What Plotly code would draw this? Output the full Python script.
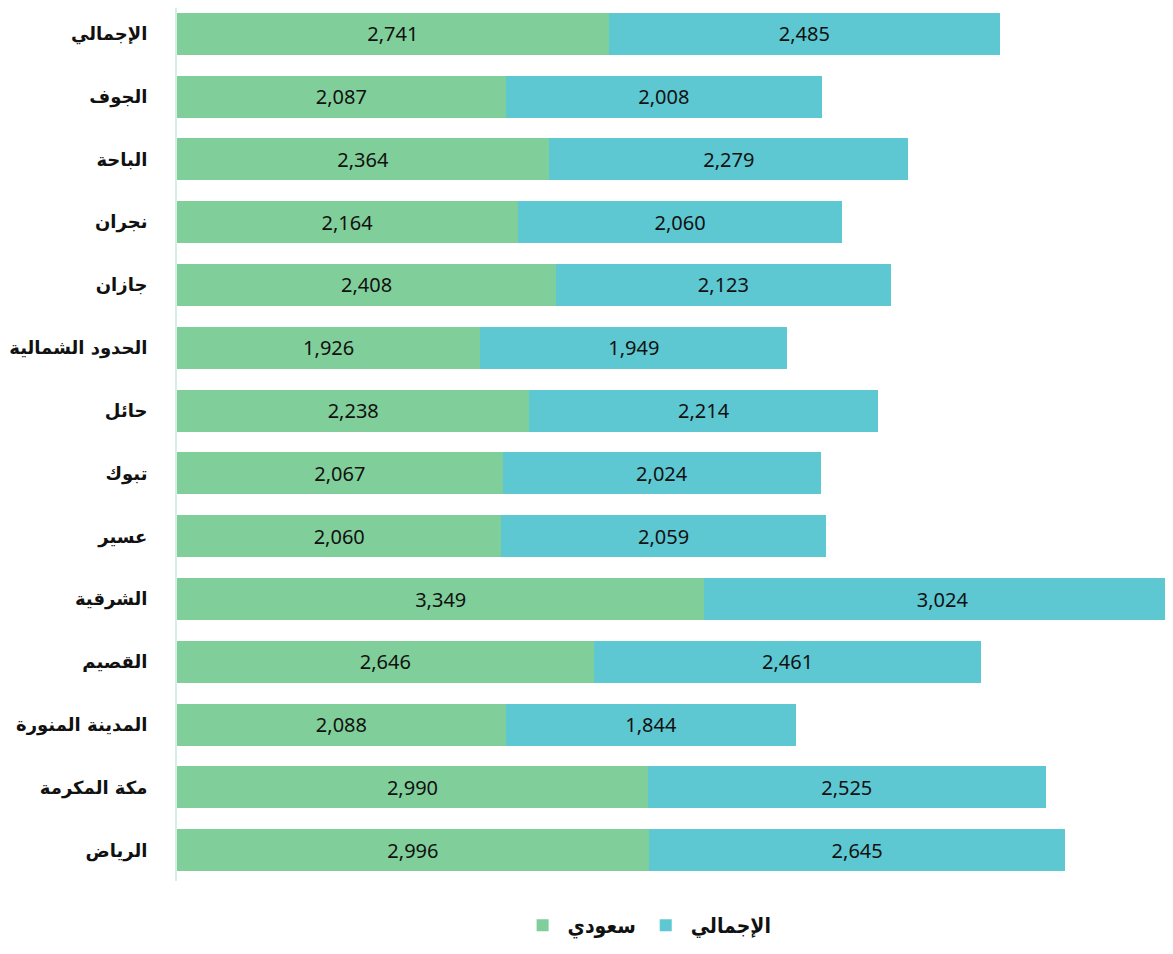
import plotly.graph_objects as go

regions = ["الرياض", "مكة المكرمة", "المدينة المنورة", "القصيم", "الشرقية", "عسير",
           "تبوك", "حائل", "الحدود الشمالية", "جازان", "نجران", "الباحة", "الجوف", "الإجمالي"]
saudi = [2996, 2990, 2088, 2646, 3349, 2060, 2067, 2238, 1926, 2408, 2164, 2364, 2087, 2741]
total = [2645, 2525, 1844, 2461, 3024, 2059, 2024, 2214, 1949, 2123, 2060, 2279, 2008, 2485]

GREEN = "#80cf9a"
CYAN = "#5dc8d2"

fig = go.Figure()
for name, vals, col in [("سعودي", saudi, GREEN), ("الإجمالي", total, CYAN)]:
    fig.add_trace(go.Bar(
        y=regions, x=vals, orientation="h", name=name,
        marker=dict(color=col, line=dict(width=0)),
        texttemplate="%{x:,}", textposition="inside", insidetextanchor="middle",
        textfont=dict(family="Noto Sans", size=20, color="#111111"),
    ))

fig.update_layout(
    barmode="stack",
    bargap=0.33,
    width=1165, height=938,
    margin=dict(l=169, r=0, t=0, b=64),
    plot_bgcolor="white", paper_bgcolor="white",
    showlegend=True,
    legend=dict(
        orientation="h", x=0.472, xanchor="center", y=-0.027, yanchor="top",
        font=dict(family="DejaVu Sans Condensed", size=21, color="#111111", weight="bold"),
        traceorder="normal", itemwidth=40,
    ),
    xaxis=dict(range=[0, 6324], showticklabels=False, showgrid=False, zeroline=False,
               showline=False, fixedrange=True),
    yaxis=dict(range=[-0.49, 13.41], showgrid=False, zeroline=False, showline=True,
               linecolor="#d4efe6", linewidth=2,
               ticks="", ticklabelstandoff=24,
               tickfont=dict(family="DejaVu Sans", size=18, color="#111111", weight="bold")),
)

fig.write_html("out.html")
